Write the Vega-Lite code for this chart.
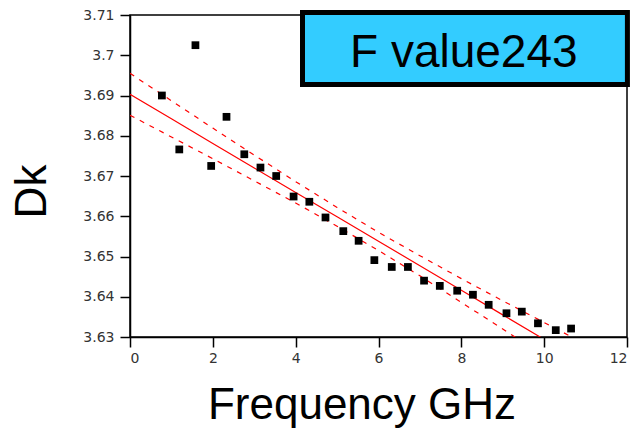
{
  "$schema": "https://vega.github.io/schema/vega-lite/v6.json",
  "width": 497,
  "height": 322,
  "autosize": {"type": "none"},
  "padding": {"left": 130, "top": 15, "right": 4, "bottom": 98},
  "background": "white",
  "config": {
    "view": {"stroke": "black", "strokeWidth": 1.5},
    "font": "Liberation Sans",
    "axis": {
      "grid": false,
      "domainColor": "black",
      "domainWidth": 1.5,
      "tickColor": "black",
      "tickWidth": 1.5,
      "tickSize": 10,
      "labelFont": "DejaVu Sans",
      "labelFontSize": 14,
      "labelColor": "#333333",
      "titleFont": "Liberation Sans",
      "titleFontSize": 44,
      "titleFontWeight": "normal",
      "titleColor": "black"
    }
  },
  "datasets": {
    "pts": [
      {"f": 0.77, "dk": 3.6900},
      {"f": 1.19, "dk": 3.6766},
      {"f": 1.58, "dk": 3.7025},
      {"f": 1.96, "dk": 3.6725},
      {"f": 2.33, "dk": 3.6847},
      {"f": 2.76, "dk": 3.6754},
      {"f": 3.15, "dk": 3.6721},
      {"f": 3.53, "dk": 3.6700},
      {"f": 3.95, "dk": 3.6649},
      {"f": 4.33, "dk": 3.6636},
      {"f": 4.72, "dk": 3.6597},
      {"f": 5.15, "dk": 3.6563},
      {"f": 5.52, "dk": 3.6539},
      {"f": 5.90, "dk": 3.6491},
      {"f": 6.32, "dk": 3.6474},
      {"f": 6.71, "dk": 3.6474},
      {"f": 7.10, "dk": 3.6440},
      {"f": 7.48, "dk": 3.6427},
      {"f": 7.90, "dk": 3.6415},
      {"f": 8.28, "dk": 3.6405},
      {"f": 8.66, "dk": 3.6380},
      {"f": 9.09, "dk": 3.6359},
      {"f": 9.46, "dk": 3.6363},
      {"f": 9.85, "dk": 3.6334},
      {"f": 10.28, "dk": 3.6317},
      {"f": 10.65, "dk": 3.6321}
    ],
    "fit": [
      {"f": 0, "fit": 3.6903, "upper": 3.6955, "lower": 3.6851},
      {"f": 1, "fit": 3.6842, "upper": 3.6887, "lower": 3.6797},
      {"f": 2, "fit": 3.6781, "upper": 3.6819, "lower": 3.6743},
      {"f": 3, "fit": 3.6720, "upper": 3.6752, "lower": 3.6688},
      {"f": 4, "fit": 3.6659, "upper": 3.6686, "lower": 3.6633},
      {"f": 5, "fit": 3.6599, "upper": 3.6622, "lower": 3.6575},
      {"f": 6, "fit": 3.6538, "upper": 3.6560, "lower": 3.6515},
      {"f": 7, "fit": 3.6477, "upper": 3.6502, "lower": 3.6452},
      {"f": 8, "fit": 3.6416, "upper": 3.6445, "lower": 3.6386},
      {"f": 9, "fit": 3.6355, "upper": 3.6390, "lower": 3.6320},
      {"f": 10, "fit": 3.6294, "upper": 3.6336, "lower": 3.6252},
      {"f": 11, "fit": 3.6233, "upper": 3.6282, "lower": 3.6184}
    ],
    "label": [
      {"text": "F value243"}
    ]
  },
  "layer": [
    {
      "data": {"name": "fit"},
      "mark": {"type": "line", "color": "#ff0000", "strokeWidth": 1.2, "clip": true},
      "encoding": {
        "x": {"field": "f", "type": "quantitative", "scale": {"domain": [0, 12], "nice": false, "zero": false},
              "axis": {"values": [0, 2, 4, 6, 8, 10, 12], "title": "Frequency GHz", "labelPadding": 4, "titlePadding": 18, "titleX": 231.5}},
        "y": {"field": "fit", "type": "quantitative", "scale": {"domain": [3.63, 3.71], "nice": false, "zero": false},
              "axis": {"values": [3.63, 3.64, 3.65, 3.66, 3.67, 3.68, 3.69, 3.7, 3.71], "format": ".2~f", "title": "Dk", "labelPadding": 6, "titlePadding": 28, "titleY": 176}}
      }
    },
    {
      "data": {"name": "fit"},
      "transform": [{"fold": ["upper", "lower"], "as": ["band", "val"]}],
      "mark": {"type": "line", "color": "#ff0000", "strokeWidth": 1.2, "strokeDash": [5, 6], "clip": true},
      "encoding": {
        "x": {"field": "f", "type": "quantitative"},
        "y": {"field": "val", "type": "quantitative"},
        "detail": {"field": "band"}
      }
    },
    {
      "data": {"name": "pts"},
      "mark": {"type": "point", "shape": "square", "filled": true, "color": "black", "size": 60, "opacity": 1},
      "encoding": {
        "x": {"field": "f", "type": "quantitative"},
        "y": {"field": "dk", "type": "quantitative"}
      }
    },
    {
      "data": {"name": "label"},
      "mark": {"type": "rect", "fill": "#33ccff", "stroke": "black", "strokeWidth": 5, "clip": false},
      "encoding": {
        "x": {"datum": 4.165, "type": "quantitative"},
        "x2": {"datum": 12.01},
        "y": {"datum": 3.7106, "type": "quantitative"},
        "y2": {"datum": 3.69273}
      }
    },
    {
      "data": {"name": "label"},
      "mark": {"type": "text", "font": "Liberation Sans", "fontSize": 46, "color": "black", "align": "center", "baseline": "alphabetic", "clip": false},
      "encoding": {
        "text": {"field": "text"},
        "x": {"datum": 8.06, "type": "quantitative"},
        "y": {"datum": 3.6971, "type": "quantitative"}
      }
    }
  ]
}
